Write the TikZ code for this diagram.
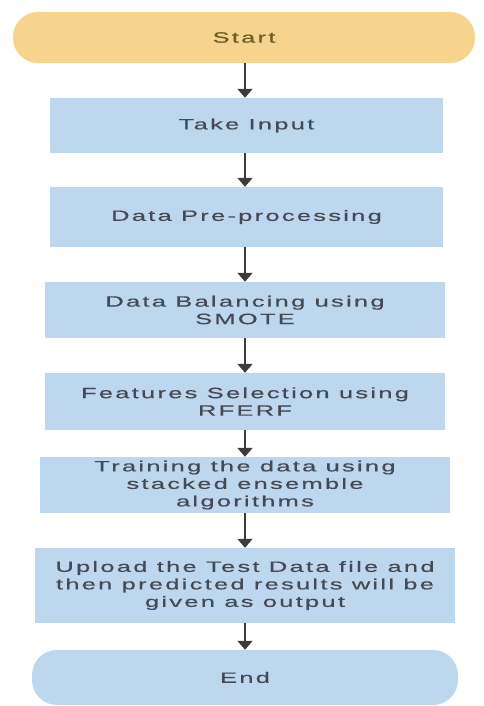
\documentclass[tikz,border=0pt]{standalone}
\usepackage{fontspec}
\setmainfont{Liberation Sans}[FakeStretch=1.7,LetterSpace=15,FakeBold=0.4]
\usetikzlibrary{arrows.meta}
\definecolor{boxblue}{HTML}{BDD7EE}
\definecolor{startor}{HTML}{F6D48E}
\definecolor{txtgray}{HTML}{444A54}
\definecolor{starttxt}{HTML}{6A5E22}
\definecolor{arrgray}{HTML}{3C3C3C}
\tikzset{
  stepbox/.style={fill=boxblue, draw=none, inner sep=0pt, align=center,
    text=txtgray, font=\fontsize{15}{17.5}\selectfont},
  term/.style={stepbox, rounded corners=25pt},
  flow/.style={draw=arrgray, line width=1.8pt, -{Triangle[width=15pt,length=9pt]}}
}
\begin{document}
\begin{tikzpicture}[x=1pt,y=1pt]
\useasboundingbox (0,0) rectangle (484,-706);
\node[term, fill=startor, text=starttxt, minimum width=462pt, minimum height=51pt] (start) at (244,-37.5) {Start};
\node[stepbox, minimum width=393pt, minimum height=55pt] (take) at (246.5,-125.5) {Take Input};
\node[stepbox, minimum width=393pt, minimum height=60pt] (pre) at (246.5,-217) {Data Pre-processing};
\node[stepbox, minimum width=400pt, minimum height=56pt] (bal) at (245,-310) {Data Balancing using\\SMOTE};
\node[stepbox, minimum width=400pt, minimum height=57pt] (feat) at (245,-401.5) {Features Selection using\\RFERF};
\node[stepbox, minimum width=410pt, minimum height=56pt] (train) at (245,-485) {Training the data using\\stacked ensemble\\algorithms};
\node[stepbox, minimum width=420pt, minimum height=75pt] (upload) at (245,-585.5) {Upload the Test Data file and\\then predicted results will be\\given as output};
\node[term, minimum width=426pt, minimum height=55pt] (end) at (245,-677.5) {End};
\draw[flow] (start.south -| 245,0) -- (take.north -| 245,0);
\draw[flow] (take.south -| 245,0) -- (pre.north -| 245,0);
\draw[flow] (pre.south -| 245,0) -- (bal.north -| 245,0);
\draw[flow] (bal.south) -- (feat.north);
\draw[flow] (feat.south) -- (train.north);
\draw[flow] (train.south) -- (upload.north);
\draw[flow] (upload.south) -- (end.north);
\end{tikzpicture}
\end{document}
